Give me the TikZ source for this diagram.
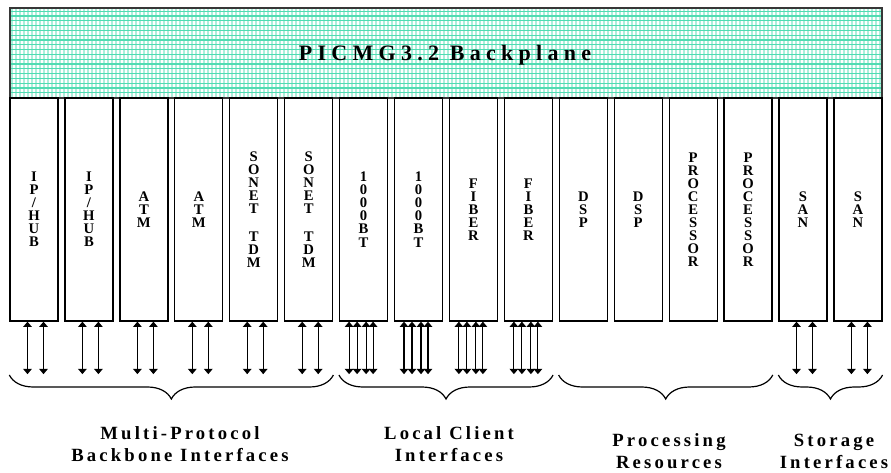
\documentclass[tikz,border=0pt]{standalone}
\usepackage{fontspec}
\setmainfont{Liberation Serif}
\newfontfamily\widefont[LetterSpace=17]{Liberation Serif}
\newfontfamily\titlefont[LetterSpace=24]{Liberation Serif}
\usepackage{tikz}
\usetikzlibrary{arrows.meta,calc,decorations.pathreplacing}
\definecolor{gridteal}{RGB}{48,214,164}
\definecolor{bpedge}{RGB}{55,55,55}

\begin{document}
\begin{tikzpicture}[x=0.75pt, y=-0.75pt,
  card/.style={draw, line width=1pt, minimum width=36pt, minimum height=167.25pt,
    inner sep=0pt, align=center, font=\bfseries\fontsize{11}{9.8}\selectfont},
  io/.style={{Triangle[width=6.5pt,length=4pt]}-{Triangle[width=6.5pt,length=4pt]}, line width=0.8pt},
  brace/.style={decorate, decoration={brace, mirror, amplitude=18pt}, line width=0.9pt},
  group/.style={align=center, font=\widefont\bfseries\fontsize{14}{16.5}\selectfont}]
  \useasboundingbox (0,0) rectangle (891,473);
  % backplane grid
  \begin{scope}
    \clip (10,8) rectangle (882,98);
    \foreach \x in {12,16,...,882} \draw[gridteal!40, line width=0.8pt] (\x,8) -- (\x,98);
    \foreach \y in {11.2,16,...,98} \draw[gridteal!85, line width=0.8pt] (10,\y) -- (882,\y);
  \end{scope}
  \node[draw=bpedge, line width=1.6pt, minimum width=654pt, minimum height=67.5pt, inner sep=0pt] (bp) at (446,53) {};
  \node[font=\titlefont\bfseries\fontsize{16.5}{16}\selectfont] (title) at (445,55) {PICMG3.2 Backplane};
  % cards
  \node[card] (c1) at (34,209.5) {I\\P\\/\\H\\U\\B};
  \node[card] (c2) at (88.9,209.5) {I\\P\\/\\H\\U\\B};
  \node[card] (c3) at (143.9,209.5) {A\\T\\M};
  \node[card] (c4) at (198.8,209.5) {A\\T\\M};
  \node[card] (c5) at (253.7,209.5) {S\\O\\N\\E\\T\\\strut\\T\\D\\M};
  \node[card] (c6) at (308.7,209.5) {S\\O\\N\\E\\T\\\strut\\T\\D\\M};
  \node[card] (c7) at (363.6,209.5) {1\\0\\0\\0\\B\\T};
  \node[card] (c8) at (418.5,209.5) {1\\0\\0\\0\\B\\T};
  \node[card] (c9) at (473.4,209.5) {F\\I\\B\\E\\R};
  \node[card] (c10) at (528.4,209.5) {F\\I\\B\\E\\R};
  \node[card] (c11) at (583.3,209.5) {D\\S\\P};
  \node[card] (c12) at (638.2,209.5) {D\\S\\P};
  \node[card] (c13) at (693.2,209.5) {P\\R\\O\\C\\E\\S\\S\\O\\R};
  \node[card] (c14) at (748.1,209.5) {P\\R\\O\\C\\E\\S\\S\\O\\R};
  \node[card] (c15) at (803,209.5) {S\\A\\N};
  \node[card] (c16) at (857.9,209.5) {S\\A\\N};
  % interfaces
  \foreach \i in {1,...,6,15,16}
    \foreach \d in {-6.5,9.5}
      \draw[io] ($(c\i.south)+(\d,0)$) -- ++(0,52.5);
  \foreach \i in {7,...,10}
    \foreach \d in {-14.5,-6.5,2.5,9.5}
      \draw[io] ($(c\i.south)+(\d,0)$) -- ++(0,52.5);
  % groups
  \coordinate (brline) at (0,375);
  \draw[brace] (c1.south west |- brline) -- (c6.south east |- brline);
  \draw[brace] (c7.south west |- brline) -- (c10.south east |- brline);
  \draw[brace] (c11.south west |- brline) -- (c14.south east |- brline);
  \draw[brace] (c15.south west |- brline) -- (c16.south east |- brline);
  \node[group] (gmulti) at (180,444) {Multi-Protocol\\Backbone Interfaces};
  \node[group] (glocal) at (449,444) {Local Client\\Interfaces};
  \node[group] (gproc) at (669,451) {Processing\\Resources};
  \node[group] (gstore) at (834,451) {Storage\\Interfaces};
\end{tikzpicture}
\end{document}
